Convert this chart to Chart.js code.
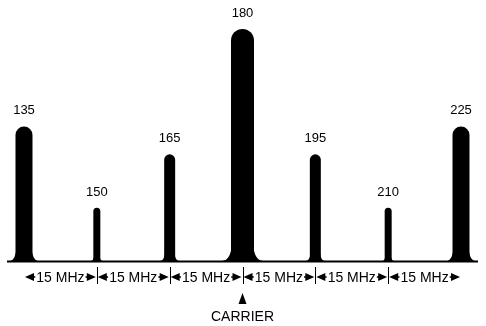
<!DOCTYPE html>
<html>
<head>
<meta charset="utf-8">
<script src="https://cdn.jsdelivr.net/npm/chart.js@4"></script>
<style>
  html, body { margin: 0; padding: 0; background: #fff; }
  canvas { display: block; }
</style>
</head>
<body>
<canvas id="spectrum" width="486" height="326"></canvas>
<script>
// channel frequencies (MHz) and relative amplitude
const freqs = [135, 150, 165, 180, 195, 210, 225];
const levels = [58, 23, 46, 100, 46, 23, 58];
const carrierFreq = 180;

// peak widths in px (style only)
const peakWidths = [17, 7, 11, 23, 11, 7, 17];
const FONT = '"Liberation Sans", Arial, sans-serif';

//peak base flare + value labels
const peakDecor = {
    id: 'peakDecor',
    afterDatasetsDraw(chart) {
        const ctx = chart.ctx;
        ctx.save();
        ctx.fillStyle = '#000';
        chart.data.datasets.forEach((ds, i) => {
            const meta = chart.getDatasetMeta(i);
            meta.data.forEach(bar => {
                const half = bar.width / 2;
                const fw = bar.width * 0.4;
                const fh = bar.width * 0.8;
                const l = bar.x - half, r = bar.x + half;
                ctx.beginPath();
                ctx.moveTo(l + 1, bar.base - fh);
                ctx.quadraticCurveTo(l, bar.base, l - fw, bar.base);
                ctx.lineTo(l + 1, bar.base);
                ctx.closePath();
                ctx.fill();
                ctx.beginPath();
                ctx.moveTo(r - 1, bar.base - fh);
                ctx.quadraticCurveTo(r, bar.base, r + fw, bar.base);
                ctx.lineTo(r - 1, bar.base);
                ctx.closePath();
                ctx.fill();

                ctx.font = '13px ' + FONT;
                ctx.textAlign = 'center';
                ctx.textBaseline = 'alphabetic';
                ctx.fillText(String(ds.data[0].x), bar.x, bar.y - 12);
            });
        });
        ctx.restore();
    }
};

//baseline, spacing arrows, carrier marker
const spacingAxis = {
    id: 'spacingAxis',
    afterDraw(chart) {
        const ctx = chart.ctx;
        const xs = chart.scales.x;
        const base = chart.scales.y.getPixelForValue(0);
        const area = chart.chartArea;
        ctx.save();
        ctx.strokeStyle = '#000';
        ctx.fillStyle = '#000';

        ctx.lineWidth = 2;
        ctx.beginPath();
        ctx.moveTo(area.left, base + 0.5);
        ctx.lineTo(area.right, base + 0.5);
        ctx.stroke();

        const rowY = base + 16;
        ctx.font = '14px ' + FONT;
        ctx.textAlign = 'center';
        ctx.textBaseline = 'middle';

        for (let i = 1; i < freqs.length - 1; i++) {
            const px = Math.round(xs.getPixelForValue(freqs[i])) + 0.5;
            ctx.lineWidth = 1;
            ctx.beginPath();
            ctx.moveTo(px, base + 6);
            ctx.lineTo(px, base + 23);
            ctx.stroke();
        }

        for (let i = 0; i < freqs.length - 1; i++) {
            const x1 = xs.getPixelForValue(freqs[i]) + 1;
            const x2 = xs.getPixelForValue(freqs[i + 1]) - 1;
            const mid = (x1 + x2) / 2;
            const label = (freqs[i + 1] - freqs[i]) + ' MHz';
            const tw = ctx.measureText(label).width;
            ctx.fillText(label, mid, rowY + 1);

            ctx.lineWidth = 1.5;
            ctx.beginPath();
            ctx.moveTo(x1 + 4, rowY);
            ctx.lineTo(mid - tw / 2 - 1, rowY);
            ctx.moveTo(mid + tw / 2 + 1, rowY);
            ctx.lineTo(x2 - 4, rowY);
            ctx.stroke();

            ctx.beginPath();
            ctx.moveTo(x1, rowY);
            ctx.lineTo(x1 + 9, rowY - 4);
            ctx.lineTo(x1 + 9, rowY + 4);
            ctx.closePath();
            ctx.fill();
            ctx.beginPath();
            ctx.moveTo(x2, rowY);
            ctx.lineTo(x2 - 9, rowY - 4);
            ctx.lineTo(x2 - 9, rowY + 4);
            ctx.closePath();
            ctx.fill();
        }

        const cx = xs.getPixelForValue(carrierFreq);
        ctx.beginPath();
        ctx.moveTo(cx, base + 32);
        ctx.lineTo(cx + 4, base + 43);
        ctx.lineTo(cx - 4, base + 43);
        ctx.closePath();
        ctx.fill();
        ctx.fillText('CARRIER', cx, base + 56);
        ctx.restore();
    }
};

const datasets = freqs.map((f, i) => ({
    data: [{ x: f, y: levels[i] }],
    backgroundColor: '#000',
    borderWidth: 0,
    borderRadius: 40,
    borderSkipped: 'bottom',
    maxBarThickness: peakWidths[i],
    grouped: false
}));

new Chart(document.getElementById('spectrum'), {
    type: 'bar',
    data: { datasets },
    options: {
        responsive: false,
        animation: false,
        layout: { padding: { left: 7, right: 8, top: 29, bottom: 65 } },
        scales: {
            x: { type: 'linear', min: 131.5, max: 228.5, offset: false, display: false },
            y: { min: 0, max: 100, display: false }
        },
        plugins: {
            legend: { display: false },
            tooltip: { enabled: false }
        }
    },
    plugins: [peakDecor, spacingAxis]
});
</script>
</body>
</html>
